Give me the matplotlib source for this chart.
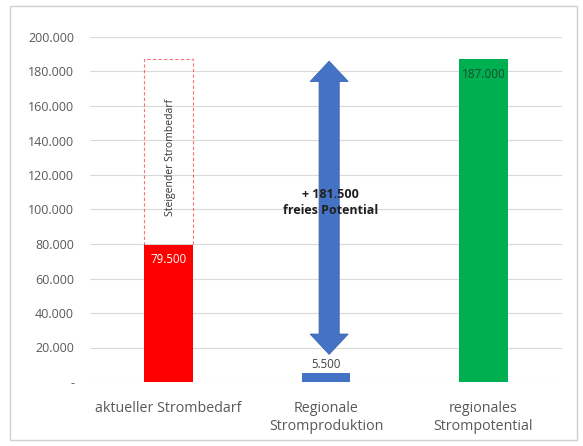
import matplotlib
matplotlib.use("Agg")
import matplotlib.pyplot as plt
from matplotlib.patches import Rectangle, Polygon
from matplotlib.ticker import FixedLocator

categories = ["aktueller Strombedarf", "Regionale\nStromproduktion", "regionales\nStrompotential"]
values = [79500, 5500, 187000]
colors = ["#ff0000", "#4472c4", "#00b050"]
value_labels = ["79.500", "5.500", "187.000"]
demand_future = 187000
arrow_range = (16000, 186000)
yticks = [0, 20000, 40000, 60000, 80000, 100000, 120000, 140000, 160000, 180000, 200000]
ytick_labels = ["-", "20.000", "40.000", "60.000", "80.000", "100.000", "120.000",
                "140.000", "160.000", "180.000", "200.000"]

W, H = 583, 446
fig = plt.figure(figsize=(W / 100, H / 100), dpi=100)
plt.rcParams['font.family'] = ['Open Sans', 'DejaVu Sans']

# outer frame
fig.patches.append(Rectangle((10 / W, 6 / H), (577 - 10) / W, (440 - 6) / H,
                             transform=fig.transFigure, fill=False,
                             edgecolor="#d0d0d0", linewidth=1.0))

left, right = 90 / W, 562 / W
top, bottom = 1 - 37 / H, 1 - 382 / H
ax = fig.add_axes([left, bottom, right - left, top - bottom])

x = range(len(categories))
bw = 0.31
ax.bar(x, values, width=bw, color=colors, zorder=3)

ax.set_xlim(-0.5, 2.5)
ax.set_ylim(0, 200000)
ax.yaxis.set_major_locator(FixedLocator(yticks))
ax.set_yticklabels(ytick_labels, fontsize=9, color="#595959")
ax.set_xticks(list(x))
ax.set_xticklabels(categories, fontsize=10.3, color="#595959", linespacing=1.25)
ax.tick_params(axis="both", length=0)
ax.tick_params(axis="y", pad=11.5)
ax.tick_params(axis="x", pad=14)
for s in ax.spines.values():
    s.set_visible(False)
ax.grid(axis="y", color="#d9d9d9", linewidth=0.8, zorder=0)

# dashed future demand box
ax.add_patch(Rectangle((0 - bw / 2, values[0]), bw, demand_future - values[0],
                       fill=False, edgecolor="#ff0000", linestyle=(0, (3, 2)),
                       linewidth=0.8, alpha=0.55, zorder=3))
ax.text(0.01, 130000, "Steigender Strombedarf",
        rotation=90, ha="center", va="center", fontsize=7.5, color="#333333", zorder=4)

# value labels
ax.text(0, values[0] - 5000, value_labels[0], ha="center", va="top", fontsize=8.3,
        color="white", zorder=4)
ax.text(1, values[1] + 700, value_labels[1], ha="center", va="bottom", fontsize=8.3,
        color="#404040", zorder=4)
ax.text(2, values[2] - 5000, value_labels[2], ha="center", va="top", fontsize=8.5,
        color="#1a4d2e", zorder=4)

# double arrow (polygon built from the data range)
c, sh, hh, hl = 1.02, 0.064, 0.121, 11800
y0, y1 = arrow_range
verts = [(c, y0), (c + hh, y0 + hl), (c + sh, y0 + hl), (c + sh, y1 - hl),
         (c + hh, y1 - hl), (c, y1), (c - hh, y1 - hl), (c - sh, y1 - hl),
         (c - sh, y0 + hl), (c - hh, y0 + hl)]
ax.add_patch(Polygon(verts, closed=True, facecolor="#4472c4", edgecolor="#3a66b5",
                     linewidth=0.6, zorder=4))

ax.text(1.03, 104000, "+ 181.500\nfreies Potential", ha="center", va="center",
        fontsize=9, fontweight="bold", color="#202020", zorder=5, linespacing=1.35)

fig.savefig("out.png", dpi=100)
